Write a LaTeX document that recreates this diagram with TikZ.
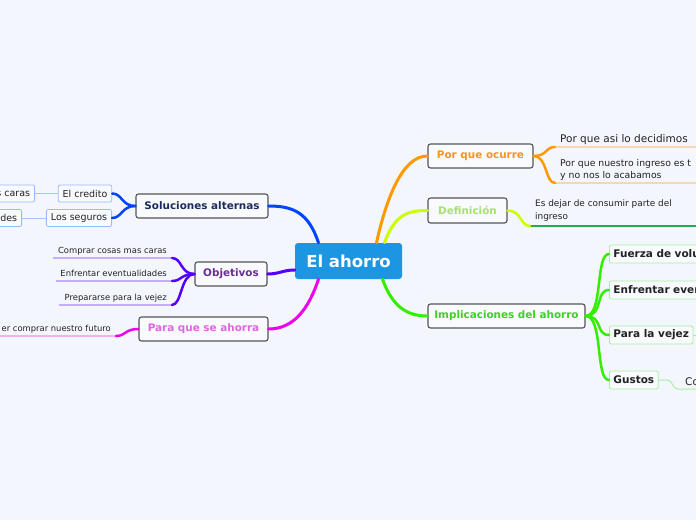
\documentclass[tikz,border=0pt]{standalone}
\usepackage{fontspec}
\setmainfont{DejaVu Sans}
\usetikzlibrary{calc}
\definecolor{bg}{HTML}{F3F6FD}
\definecolor{centralblue}{HTML}{1C95E3}
\definecolor{topicborder}{HTML}{555555}
\definecolor{topicfill}{HTML}{F8FAFE}
\definecolor{orangeb}{HTML}{FF9900}
\definecolor{orangetext}{HTML}{F7941D}
\definecolor{orangeline}{HTML}{F8D6B0}
\definecolor{ygreen}{HTML}{CCFF00}
\definecolor{deftext}{HTML}{A8E070}
\definecolor{defline}{HTML}{1DB04A}
\definecolor{greenb}{HTML}{33EE00}
\definecolor{greentext}{HTML}{40D020}
\definecolor{implborder}{HTML}{A8F0A0}
\definecolor{blueb}{HTML}{0044FF}
\definecolor{soltext}{HTML}{1A2B5C}
\definecolor{solborder}{HTML}{99BBFF}
\definecolor{solline}{HTML}{A8C4FF}
\definecolor{purpleb}{HTML}{5500FF}
\definecolor{objtext}{HTML}{6B2E91}
\definecolor{objline}{HTML}{C4B0FA}
\definecolor{magentab}{HTML}{EE00EE}
\definecolor{paratext}{HTML}{E066E0}
\definecolor{paraline}{HTML}{F4B0F4}
\definecolor{darktext}{HTML}{222222}
\begin{document}
\begin{tikzpicture}[x=1pt,y=-1pt,
  central/.style={fill=centralblue, rounded corners=3pt, text=white,
    font=\fontsize{16.5}{20}\selectfont\bfseries, minimum width=107pt,
    minimum height=36pt, inner sep=0pt},
  topic/.style={draw=topicborder, line width=1.1pt, rounded corners=2.5pt,
    fill=topicfill, font=\fontsize{10.4}{12}\selectfont\bfseries,
    inner sep=0pt, minimum height=24pt},
  implbox/.style={draw=implborder, line width=0.8pt, rounded corners=2pt,
    fill=topicfill, text=darktext, font=\fontsize{10.5}{12}\selectfont\bfseries,
    minimum height=18pt, inner xsep=4pt, inner ysep=0pt, anchor=west},
  solbox/.style={draw=solborder, line width=0.8pt, rounded corners=2pt,
    fill=topicfill, text=darktext, font=\fontsize{9.5}{11}\selectfont,
    minimum height=17pt, inner xsep=4.5pt, inner ysep=0pt},
  branch/.style={line width=3pt, line cap=round},
  subconn/.style={line width=2.5pt, line cap=round},
  uline/.style={line width=1.5pt},
  thinline/.style={line width=1pt},
  txtbig/.style={font=\fontsize{10.5}{12}\selectfont, text=darktext, inner sep=0pt},
  txtmid/.style={font=\fontsize{9.3}{11}\selectfont, text=darktext, inner sep=0pt},
  txtnine/.style={font=\fontsize{8.9}{11}\selectfont, text=darktext, inner sep=0pt},
  txtsmall/.style={font=\fontsize{8.4}{10}\selectfont, text=darktext, inner sep=0pt}
]
\useasboundingbox (0,0) rectangle (696,520);
\fill[bg] (0,0) rectangle (696,520);
\clip (0,0) rectangle (696,520);

% main nodes
\node[central] (c) at (348.5,261) {El ahorro};
\node[topic, text=orangetext, minimum width=105pt] (poc) at (480.5,156) {Por que ocurre};
\node[topic, text=deftext, minimum width=79pt, minimum height=25pt] (def) at (467.5,210.5) {Definición};
\node[topic, text=greentext, minimum width=157pt] (imp) at (506.5,316) {Implicaciones del ahorro};
\node[topic, text=soltext, minimum width=132pt] (sol) at (202,206) {Soluciones alternas};
\node[topic, text=objtext, minimum width=72pt] (obj) at (231,274) {Objetivos};
\node[topic, text=paratext, minimum width=129pt] (para) at (203.5,329) {Para que se ahorra};

% main branches
\draw[branch, orangeb] ($(c.north)+(28,0)$) .. controls +(10,-45) and +(-25,0) .. (poc.west);
\draw[branch, ygreen] ($(c.north)+(36,0)$) .. controls +(10,-28) and +(-20,0) .. (def.west);
\draw[branch, greenb] ($(c.south)+(34,0)$) .. controls +(10,28) and +(-20,0) .. (imp.west);
\draw[branch, blueb] ($(c.north)+(-30,0)$) .. controls +(-10,-30) and +(25,0) .. (sol.east);
\draw[branch, purpleb] ($(c.west)+(0,9)$) .. controls +(-12,0) and +(12,0) .. (obj.east);
\draw[branch, magentab] ($(c.south)+(-30,0)$) .. controls +(-10,30) and +(25,0) .. (para.east);

% Por que ocurre
\coordinate (p1) at (555,147);
\coordinate (p1e) at (700,147);
\coordinate (p2) at (555,183);
\coordinate (p2e) at (700,183);
\draw[uline, orangeline] (p1) -- (p1e);
\draw[uline, orangeline] (p2) -- (p2e);
\draw[subconn, orangeb] (poc.east) .. controls +(14,0) and +(-10,0) .. (p1);
\draw[subconn, orangeb] (poc.east) .. controls +(14,0) and +(-10,0) .. (p2);
\node[txtbig, anchor=base west] (pt1) at (560,142) {Por que asi lo decidimos};
\node[txtmid, anchor=base west] (pt2) at (560,166.5) {Por que nuestro ingreso es t};
\node[txtmid, anchor=base west] (pt3) at (560,178.5) {y no nos lo acabamos};

% Definicion
\coordinate (d1) at (530,226);
\coordinate (d1e) at (700,226);
\draw[uline, defline] (d1) -- (d1e);
\draw[subconn, ygreen] (def.east) .. controls +(14,0) and +(-10,0) .. (d1);
\node[txtnine, anchor=base west] (dt1) at (535,206.5) {Es dejar de consumir parte del};
\node[txtnine, anchor=base west] (dt2) at (535,219.5) {ingreso};

% Implicaciones
\node[implbox, text width=100pt] (f1) at (609,254) {Fuerza de volu};
\node[implbox, text width=100pt] (f2) at (609,290) {Enfrentar even};
\node[implbox] (f3) at (609,335) {Para la vejez};
\node[implbox] (f4) at (609,380) {Gustos};
\foreach \n in {f1,f2,f3,f4}
  \draw[subconn, greenb] (imp.east) .. controls +(18,0) and +(-14,0) .. (\n.west);
\coordinate (f3e) at (700,335);
\draw[thinline, implborder] (f3.east) -- (f3e);
\coordinate (g1) at (678,389);
\coordinate (g1e) at (700,389);
\draw[thinline, implborder] (f4.east) -- ++(9,0) .. controls +(5,0) and +(-6,0) .. (g1) -- (g1e);
\node[txtbig, anchor=base west] (co) at (685,385) {Co};

% Soluciones alternas
\node[solbox] (ec) at (85,193.5) {El credito};
\node[solbox] (ls) at (79,218) {Los seguros};
\node[solbox, anchor=east, text width=52pt, align=right] (sc) at (35,193.5) {s caras};
\node[solbox, anchor=east, text width=40pt, align=right] (ad) at (22,218) {ades};
\draw[subconn, blueb] (sol.west) .. controls +(-14,0) and +(10,0) .. (ec.east);
\draw[subconn, blueb] (sol.west) .. controls +(-14,0) and +(10,0) .. (ls.east);
\draw[thinline, solline] (ec.west) -- (sc.east);
\draw[thinline, solline] (ls.west) -- (ad.east);

% Objetivos
\coordinate (o1) at (172,258);
\coordinate (o1s) at (53,258);
\coordinate (o2) at (172,281);
\coordinate (o2s) at (56,281);
\coordinate (o3) at (172,305);
\coordinate (o3s) at (59,305);
\draw[uline, objline] (o1s) -- (o1);
\draw[uline, objline] (o2s) -- (o2);
\draw[uline, objline] (o3s) -- (o3);
\draw[subconn, purpleb] (obj.west) .. controls +(-14,0) and +(10,0) .. (o1);
\draw[subconn, purpleb] (obj.west) .. controls +(-14,0) and +(10,0) .. (o2);
\draw[subconn, purpleb] (obj.west) .. controls +(-14,0) and +(10,0) .. (o3);
\node[txtsmall, anchor=base east] (ot1) at (167,253) {Comprar cosas mas caras};
\node[txtsmall, anchor=base east] (ot2) at (167,276.5) {Enfrentar eventualidades};
\node[txtsmall, anchor=base east] (ot3) at (167,300.5) {Prepararse para la vejez};

% Para que se ahorra
\coordinate (q1) at (116,336);
\coordinate (q1s) at (-5,336);
\draw[uline, paraline] (q1s) -- (q1);
\draw[subconn, magentab] (para.west) .. controls +(-14,0) and +(10,0) .. (q1);
\node[txtsmall, anchor=base east] (qt) at (111,331) {er comprar nuestro futuro};
\end{tikzpicture}
\end{document}
